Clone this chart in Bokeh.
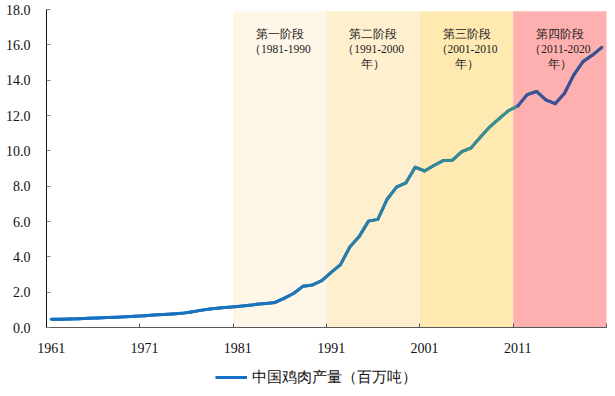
import numpy as np
from bokeh.plotting import figure
from bokeh.models import (Range1d, FixedTicker, NumeralTickFormatter, Legend, LegendItem)
from bokeh.core.properties import value
from bokeh.embed import file_html
from bokeh.resources import INLINE

years = list(range(1961, 2021))
production = [0.46, 0.47, 0.48, 0.50, 0.52, 0.54, 0.56, 0.58, 0.61, 0.63,
              0.66, 0.71, 0.74, 0.77, 0.80, 0.88, 0.97, 1.05, 1.10, 1.15,
              1.19, 1.24, 1.31, 1.36, 1.42, 1.66, 1.94, 2.34, 2.41, 2.65,
              3.12, 3.56, 4.56, 5.15, 6.02, 6.12, 7.26, 7.95, 8.18, 9.07,
              8.86, 9.17, 9.45, 9.47, 9.96, 10.17, 10.78, 11.36, 11.82, 12.27,
              12.54, 13.18, 13.36, 12.88, 12.67, 13.26, 14.30, 15.06, 15.42, 15.86]

series_name = "中国鸡肉产量（百万吨）"

period_start = [1981, 1991, 2001, 2011]
period_end = [1990, 2000, 2010, 2020]
period_title = ["第一阶段", "第二阶段", "第三阶段", "第四阶段"]
period_range = ["（1981-1990", "（1991-2000", "（2001-2010", "（2011-2020"]
period_suffix = ["", "年）", "年）", "年）"]
period_color = ["#FEF6E7", "#FEF0CF", "#FEE9B1", "#FEB0B0"]

x_tick_labels = ["1961", "1971", "1981", "1991", "2001", "2011"]
y_ticks = [0, 2, 4, 6, 8, 10, 12, 14, 16, 18]
y_max = 18

# line colour stops (year, colour)
stop_years = [1961, 1985, 1995, 2005, 2010.5, 2011.0, 2020]
stop_cols = ["#1470c4", "#1a75b8", "#2a7ea6", "#3b8a90", "#41908a", "#3f5494", "#3d4b8e"]

def hex2rgb(h):
    return np.array([int(h[i:i + 2], 16) for i in (1, 3, 5)], dtype=float)

def col_at(yv):
    rgbs = np.array([hex2rgb(c) for c in stop_cols])
    r = np.interp(yv, stop_years, rgbs[:, 0])
    g = np.interp(yv, stop_years, rgbs[:, 1])
    b = np.interp(yv, stop_years, rgbs[:, 2])
    return "#%02x%02x%02x" % (int(round(r)), int(round(g)), int(round(b)))

# layout in pixels
W, H = 607, 388
TOP, AX = 9, 327          # value 18 / value 0
LEFT, RIGHT = 46, 606     # year boundary 1960.5 / 2020.5
x0, x1 = years[0] - 0.5, years[-1] + 0.5
px_per_year = (RIGHT - LEFT) / (x1 - x0)
x_start = x0 - LEFT / px_per_year
x_end = x1 + (W - RIGHT) / px_per_year
px_per_unit = (AX - TOP) / y_max
y_start = -(H - AX) / px_per_unit
y_end = y_max + TOP / px_per_unit

p = figure(width=W, height=H, output_backend="svg", toolbar_location=None,
           x_range=Range1d(x_start, x_end), y_range=Range1d(y_start, y_end),
           min_border_left=0, min_border_right=0, min_border_top=0, min_border_bottom=0)
p.outline_line_color = None
p.grid.visible = False
p.background_fill_color = "white"
p.border_fill_color = "white"

# shaded periods
p.quad(left=[s - 0.5 for s in period_start], right=[e + 0.5 for e in period_end],
       bottom=0, top=17.9, fill_color=period_color, line_color=None)

# period labels
cx = [(s + e) / 2 for s, e in zip(period_start, period_end)]
lab_font = value("Liberation Serif")
for texts, off in ((period_title, 24), (period_range, 39), (period_suffix, 54)):
    p.text(x=cx, y=[y_max] * 4, text=texts, y_offset=off, text_align="center",
           text_baseline="middle", text_font=lab_font, text_font_size="11.5px",
           text_color="#222222")

# base line (for legend) + gradient segments
line_r = p.line(years, production, line_width=3, color="#1470c4", line_join="round")
mid = [(a + b) / 2 for a, b in zip(years[:-1], years[1:])]
seg_cols = [col_at(m) for m in mid]
p.segment(x0=years[:-1], y0=production[:-1], x1=years[1:], y1=production[1:],
          line_width=3, color=seg_cols, line_cap="round")

# x axis drawn at value 0
xa = p.xaxis[0]
xa.fixed_location = 0
xa.bounds = (x0, x1)
xa.ticker = FixedTicker(ticks=[int(t) for t in x_tick_labels],
                        minor_ticks=[x0 + 10 * i for i in range(7)])
xa.major_tick_line_color = None
xa.minor_tick_in = 4
xa.minor_tick_out = 0
xa.minor_tick_line_color = "#595959"
xa.axis_line_color = "#595959"
xa.major_label_text_font = "Liberation Serif"
xa.major_label_text_font_size = "14px"
xa.major_label_text_color = "#111111"
xa.major_label_standoff = 9

# y axis drawn at the first year boundary
ya = p.yaxis[0]
ya.fixed_location = x0
ya.bounds = (0, y_max)
ya.ticker = FixedTicker(ticks=y_ticks)
ya.formatter = NumeralTickFormatter(format="0.0")
ya.minor_tick_line_color = None
ya.major_tick_in = 4
ya.major_tick_out = 0
ya.major_tick_line_color = "#7f7f7f"
ya.axis_line_color = "#111111"
ya.major_label_text_font = "Liberation Serif"
ya.major_label_text_font_size = "14px"
ya.major_label_text_color = "#111111"
ya.major_label_standoff = 16

legend = Legend(items=[LegendItem(label=series_name, renderers=[line_r])],
                location=(215, 1), orientation="horizontal",
                border_line_color=None, background_fill_alpha=0,
                padding=0, margin=0, glyph_width=32, label_standoff=5,
                label_text_font="Liberation Serif", label_text_font_size="14.5px",
                label_text_color="#111111")
p.add_layout(legend, "center")

open("out.html", "w").write(file_html(p, INLINE))
